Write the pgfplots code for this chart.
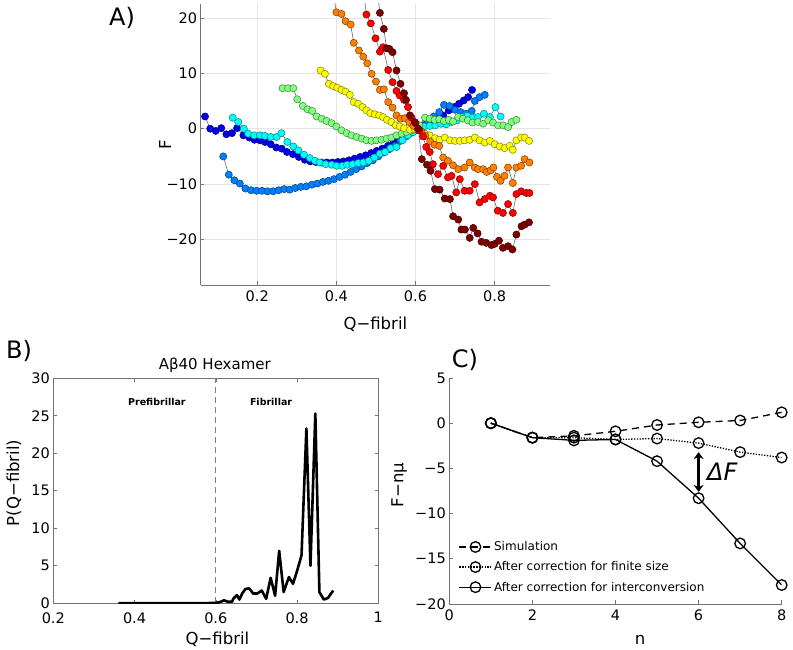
\documentclass[border=0pt]{standalone}
\usepackage{pgfplots}
\pgfplotsset{compat=1.18}
\usepackage{fontspec}
\setmainfont{DejaVu Sans}
\usetikzlibrary{arrows.meta}

% jet(8) colours
\definecolor{j1}{rgb}{0,0,0.92}
\definecolor{j2}{rgb}{0,0.5,1}
\definecolor{j3}{rgb}{0,1,1}
\definecolor{j4}{rgb}{0.5,1,0.5}
\definecolor{j5}{rgb}{1,1,0}
\definecolor{j6}{rgb}{1,0.5,0}
\definecolor{j7}{rgb}{1,0,0}
\definecolor{j8}{rgb}{0.5,0,0}

\pgfplotsset{
  aser/.style={draw=black!60, line width=0.6pt, mark=*, mark size=3.6pt,
    mark options={fill=#1, draw=#1!50!black, line width=0.5pt}},
  mat/.style={
    scale only axis, anchor=south west,
    /pgf/number format/assume math mode=true,
    tick align=inside, major tick length=3.5pt,
    axis line style={black!55, line width=0.6pt},
    tick style={black!55, line width=0.6pt},
    ticklabel style={font=\fontsize{14.5}{16}\selectfont},
    xticklabel style={yshift=-2.5pt},
    label style={font=\fontsize{16.5}{19}\selectfont},
  },
}

\begin{document}
\begin{tikzpicture}
\path[use as bounding box] (0pt,0pt) rectangle (793pt,650pt);

% ---------------- A ----------------
\begin{axis}[mat,
  at={(200.7pt,365pt)}, width=349.3pt, height=281pt,
  xmin=0.057, xmax=0.94, ymin=-28.2, ymax=22.5,
  axis x line*=bottom, axis y line*=left,
  xtick={0.2,0.4,0.6,0.8}, xticklabels={0.2,0.4,0.6,0.8},
  ytick={-20,-10,0,10,20}, yticklabels={−20,−10,0,10,20},
  grid=major, major grid style={black!10, line width=0.5pt},
  xlabel={Q−fibril}, ylabel={F},
  x label style={at={(axis description cs:0.5,-0.14)}, anchor=center},
  y label style={at={(axis description cs:-0.102,0.498)}, anchor=center},
]
\addplot[aser=j1] coordinates {
(0.068,2.2)(0.081,0.0)(0.095,-0.4)(0.109,0.1)(0.122,-1.0)(0.136,-0.8)(0.149,0.1)
(0.165,-1.2)(0.18,-1.6)(0.193,-2.0)(0.207,-2.1)(0.22,-2.4)(0.234,-2.8)(0.248,-3.4)
(0.262,-3.6)(0.275,-4.2)(0.29,-4.6)(0.305,-5.1)(0.32,-5.6)(0.334,-5.9)(0.348,-6.0)
(0.362,-6.1)(0.376,-6.1)(0.39,-6.1)(0.404,-6.0)(0.418,-5.9)(0.432,-5.7)(0.446,-5.4)
(0.46,-5.1)(0.474,-4.8)(0.488,-4.4)(0.502,-4.0)(0.516,-3.6)(0.53,-3.1)(0.544,-2.5)
(0.558,-1.9)(0.572,-1.3)(0.586,-0.8)(0.6,-0.3)(0.614,0.4)(0.628,0.9)(0.642,1.5)
(0.656,1.9)(0.67,2.4)(0.684,3.3)(0.698,3.9)(0.71,4.5)(0.722,5.1)(0.733,5.7)(0.743,7.0)
};
\addplot[aser=j2] coordinates {
(0.114,-5.0)(0.128,-8.3)(0.142,-9.3)(0.156,-9.9)(0.17,-10.8)(0.184,-11.1)(0.198,-11.2)
(0.212,-11.2)(0.226,-11.3)(0.24,-11.3)(0.254,-11.1)(0.268,-10.9)(0.282,-11.0)(0.296,-10.7)
(0.31,-10.5)(0.324,-10.4)(0.338,-10.1)(0.352,-9.9)(0.366,-9.6)(0.38,-9.4)(0.394,-9.1)
(0.408,-8.7)(0.422,-8.3)(0.436,-7.8)(0.45,-7.3)(0.464,-6.8)(0.478,-6.2)(0.492,-5.7)
(0.506,-5.0)(0.52,-4.3)(0.534,-3.7)(0.548,-3.1)(0.562,-2.2)(0.576,-1.4)(0.59,-0.7)
(0.604,0.0)(0.618,0.6)(0.632,1.4)(0.646,2.2)(0.66,3.0)(0.672,4.3)(0.686,4.1)(0.70,3.4)
(0.714,3.0)(0.728,2.7)(0.742,3.2)(0.75,5.0)(0.762,5.7)(0.775,6.1)
};
\addplot[aser=j3] coordinates {
(0.138,2.0)(0.152,1.2)(0.166,0.0)(0.177,-0.9)(0.192,-1.2)(0.207,-1.2)(0.219,-1.3)
(0.234,-1.5)(0.249,-1.5)(0.261,-0.8)(0.276,-2.4)(0.291,-3.2)(0.304,-3.9)(0.318,-4.7)
(0.333,-5.3)(0.346,-5.8)(0.358,-6.1)(0.373,-6.4)(0.388,-6.5)(0.40,-6.7)(0.415,-6.7)
(0.427,-6.5)(0.441,-6.4)(0.455,-6.2)(0.468,-6.1)(0.482,-5.8)(0.496,-5.2)(0.51,-4.5)
(0.523,-4.2)(0.537,-3.5)(0.552,-3.3)(0.567,-2.1)(0.581,-1.2)(0.594,-0.6)(0.608,0.2)
(0.622,0.4)(0.636,0.5)(0.65,0.6)(0.664,0.9)(0.678,0.8)(0.691,1.2)(0.705,1.5)(0.718,2.1)
(0.731,2.3)(0.744,2.0)(0.758,2.1)(0.773,2.7)(0.788,2.1)(0.802,3.9)(0.815,2.2)
};
\addplot[aser=j4] coordinates {
(0.264,7.3)(0.278,7.3)(0.291,7.3)(0.301,5.3)(0.315,4.1)(0.327,3.5)(0.339,3.2)(0.35,2.2)
(0.363,1.8)(0.375,1.4)(0.388,1.0)(0.40,0.4)(0.413,-0.3)(0.426,-0.8)(0.438,-1.2)(0.451,-1.5)
(0.464,-1.8)(0.476,-2.1)(0.489,-2.2)(0.501,-2.1)(0.514,-2.0)(0.527,-1.8)(0.539,-1.6)
(0.552,-1.2)(0.565,-0.9)(0.577,-0.6)(0.59,-0.3)(0.61,0.6)(0.624,2.0)(0.636,1.8)(0.648,1.6)
(0.66,1.7)(0.672,1.4)(0.684,1.6)(0.695,1.3)(0.708,2.1)(0.72,1.8)(0.732,1.5)(0.744,1.1)
(0.758,1.2)(0.771,0.9)(0.784,1.5)(0.796,1.1)(0.809,0.6)(0.822,0.6)(0.834,0.3)(0.843,1.2)
(0.855,1.6)
};
\addplot[aser=j5] coordinates {
(0.36,10.5)(0.371,9.9)(0.381,8.1)(0.392,7.7)(0.402,7.4)(0.413,7.0)(0.423,6.7)(0.434,6.1)
(0.444,4.8)(0.455,4.5)(0.466,3.9)(0.476,3.3)(0.486,2.8)(0.497,2.6)(0.508,2.4)(0.518,2.1)
(0.528,1.6)(0.539,1.2)(0.55,0.6)(0.56,0.4)(0.571,0.1)(0.586,-0.2)(0.598,-0.1)(0.61,-0.3)
(0.623,-0.9)(0.636,-1.2)(0.649,-1.7)(0.661,-2.0)(0.674,-1.6)(0.687,-2.1)(0.70,-2.2)
(0.712,-2.2)(0.724,-2.1)(0.737,-2.0)(0.75,-1.6)(0.762,-2.1)(0.775,-2.5)(0.788,-2.2)
(0.80,-2.8)(0.813,-3.2)(0.825,-3.5)(0.838,-3.1)(0.846,-3.8)(0.855,-2.1)(0.867,-1.6)
(0.876,-1.6)(0.887,-2.2)
};
\addplot[aser=j6] coordinates {
(0.392,24.5)(0.40,21.0)(0.413,20.7)(0.423,19.4)(0.436,18.8)(0.444,15.5)(0.457,14.1)
(0.468,13.0)(0.478,11.8)(0.489,9.9)(0.50,8.5)(0.51,7.0)(0.52,7.1)(0.531,4.8)(0.542,3.8)
(0.552,2.4)(0.562,1.8)(0.573,1.9)(0.584,1.2)(0.595,0.5)(0.606,-0.2)(0.615,-0.5)
(0.625,-1.3)(0.637,-2.3)(0.648,-2.9)(0.66,-3.1)(0.67,-5.2)(0.682,-5.8)(0.695,-6.6)
(0.708,-7.3)(0.724,-7.0)(0.737,-6.1)(0.75,-7.0)(0.758,-7.3)(0.771,-7.3)(0.78,-7.8)
(0.79,-7.5)(0.797,-7.0)(0.806,-8.7)(0.815,-9.4)(0.825,-8.5)(0.834,-7.0)(0.846,-9.8)
(0.855,-7.0)(0.867,-6.7)(0.876,-5.5)(0.888,-6.1)
};
\addplot[aser=j7] coordinates {
(0.47,24.0)(0.476,20.6)(0.487,19.0)(0.499,16.3)(0.51,13.9)(0.518,14.7)(0.531,10.6)
(0.542,8.4)(0.552,6.8)(0.56,6.0)(0.571,5.2)(0.581,3.9)(0.59,2.0)(0.60,1.0)(0.61,-0.3)
(0.619,-1.4)(0.627,-3.3)(0.636,-4.2)(0.644,-6.4)(0.657,-8.2)(0.67,-6.7)(0.682,-8.8)
(0.691,-8.5)(0.703,-11.5)(0.712,-9.1)(0.724,-11.2)(0.737,-11.2)(0.75,-10.0)(0.762,-13.3)
(0.775,-12.7)(0.788,-12.1)(0.796,-12.4)(0.808,-14.8)(0.821,-15.2)(0.834,-13.6)
(0.846,-15.2)(0.855,-11.8)(0.867,-11.3)(0.88,-11.6)(0.888,-11.6)
};
\addplot[aser=j8] coordinates {
(0.505,24.0)(0.51,20.9)(0.52,18.0)(0.527,14.5)(0.534,14.4)(0.542,13.8)(0.552,10.5)
(0.562,8.1)(0.571,6.4)(0.576,5.2)(0.586,2.4)(0.598,1.2)(0.607,0.0)(0.616,-5.5)
(0.629,-6.5)(0.638,-7.6)(0.649,-10.9)(0.661,-11.0)(0.674,-12.6)(0.687,-12.7)(0.695,-15.8)
(0.708,-16.4)(0.716,-18.2)(0.725,-18.2)(0.737,-19.7)(0.746,-17.9)(0.757,-18.9)
(0.767,-20.4)(0.779,-20.6)(0.792,-21.0)(0.80,-20.8)(0.811,-20.2)(0.821,-21.5)
(0.834,-21.2)(0.845,-21.8)(0.855,-19.1)(0.868,-17.6)(0.876,-17.3)(0.887,-16.9)
};
\end{axis}

% ---------------- B ----------------
\begin{axis}[mat,
  at={(53.3pt,46.7pt)}, width=325pt, height=225pt,
  xmin=0.2, xmax=1, ymin=0, ymax=30,
  xtick={0.2,0.4,0.6,0.8,1}, xticklabels={0.2,0.4,0.6,0.8,1},
  xticklabel style={yshift=-3pt},
  ytick={0,5,10,15,20,25,30}, yticklabels={0,5,10,15,20,25,30},
  title={Aβ40 Hexamer},
  title style={font=\fontsize{15}{18}\selectfont, at={(axis description cs:0.497,1.03)}, anchor=center, yshift=0pt},
  xlabel={Q−fibril}, ylabel={P(Q−fibril)},
  x label style={at={(axis description cs:0.505,-0.162)}, anchor=center},
  y label style={at={(axis description cs:-0.121,0.535)}, anchor=center},
]
\addplot[black!50, dash pattern=on 6pt off 4pt, line width=1.1pt] coordinates {(0.6,0)(0.6,30)};
\addplot[black, line width=2.6pt, line join=round] coordinates {
(0.36,0)(0.40,0)(0.45,0)(0.50,0)(0.55,0)(0.60,0.05)(0.61,0.15)(0.62,0.4)(0.63,0.2)
(0.64,0.2)(0.643,0.6)(0.652,1.1)(0.658,0.5)(0.666,1.4)(0.673,1.9)(0.682,2.0)(0.692,1.3)
(0.702,1.3)(0.713,1.7)(0.724,0.6)(0.735,3.4)(0.746,1.0)(0.756,7.0)(0.767,1.5)(0.78,3.5)
(0.79,2.6)(0.80,4.3)(0.811,6.4)(0.823,23.3)(0.833,5.0)(0.845,25.3)(0.855,1.5)(0.866,0.5)
(0.876,0.7)(0.889,1.7)
};
\node[font=\bfseries\fontsize{9.5}{11}\selectfont] at (axis cs:0.455,26.8) {Prefibrillar};
\node[font=\bfseries\fontsize{9.5}{11}\selectfont] at (axis cs:0.736,26.8) {Fibrillar};
\end{axis}

% ---------------- C ----------------
\begin{axis}[mat,
  at={(449.3pt,46pt)}, width=332.4pt, height=226pt,
  xmin=0, xmax=8, ymin=-20, ymax=5,
  axis x line*=bottom, axis y line*=left,
  xtick={0,2,4,6,8}, xticklabels={0,2,4,6,8},
  ytick={-20,-15,-10,-5,0,5}, yticklabels={−20,−15,−10,−5,0,5},
  xlabel={n}, ylabel={F−nμ},
  x label style={at={(axis description cs:0.574,-0.16)}, anchor=center},
  y label style={at={(axis description cs:-0.151,0.527)}, anchor=center},
  legend style={at={(axis description cs:0.025,0.29)}, anchor=north west,
    draw=none, fill=none, font=\fontsize{12}{14}\selectfont,
    row sep=5.5pt, inner sep=1pt},
  legend cell align=left,
  legend image code/.code={\draw[mark repeat=2,mark phase=2] plot coordinates {(0pt,0pt)(16pt,0pt)(32pt,0pt)};},
]
\addplot[black, line width=1.3pt, dash pattern=on 7pt off 5pt, mark=o, mark size=5.3pt, mark options={solid}] coordinates {
(1,0)(2,-1.6)(3,-1.4)(4,-0.9)(5,-0.2)(6,0.1)(7,0.3)(8,1.2)
};
\addlegendentry{Simulation}
\addplot[black, line width=1.3pt, dash pattern=on 1.3pt off 1.5pt, mark=o, mark size=5.3pt, mark options={solid}] coordinates {
(1,0)(2,-1.6)(3,-1.6)(4,-1.8)(5,-1.7)(6,-2.2)(7,-3.2)(8,-3.8)
};
\addlegendentry{After correction for finite size}
\addplot[black, line width=1.3pt, mark=o, mark size=5.3pt] coordinates {
(1,0)(2,-1.6)(3,-1.9)(4,-1.8)(5,-4.2)(6,-8.3)(7,-13.3)(8,-17.9)
};
\addlegendentry{After correction for interconversion}
\draw[{Stealth[length=7pt,width=10pt]}-{Stealth[length=7pt,width=10pt]}, line width=2.4pt] (axis cs:6,-3.2) -- (axis cs:6,-7.6);
\node[font=\itshape\fontsize{24}{28}\selectfont] at (axis cs:6.57,-5.4) {ΔF};
\end{axis}

% panel letters
\node[font=\fontsize{24}{28}\selectfont] at (122pt,632pt) {A)};
\node[font=\fontsize{24}{28}\selectfont] at (19pt,299pt) {B)};
\node[font=\fontsize{24}{28}\selectfont] at (465pt,290pt) {C)};
\end{tikzpicture}
\end{document}
